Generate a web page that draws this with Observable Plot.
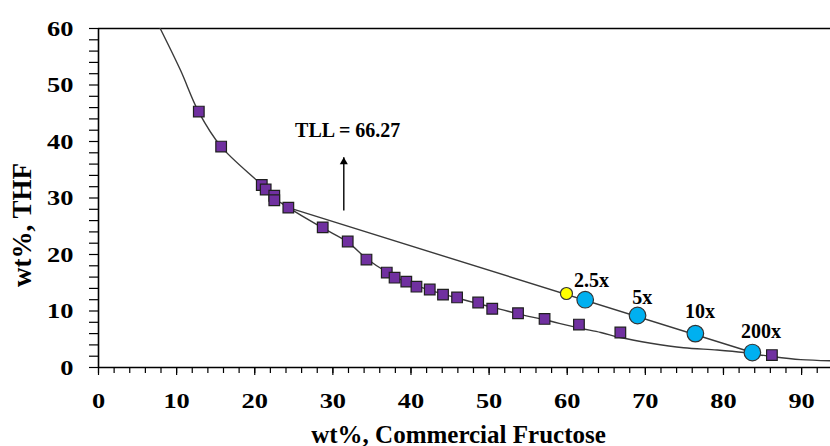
<!DOCTYPE html>
<html><head><meta charset="utf-8">
<script src="https://cdn.jsdelivr.net/npm/d3@7"></script>
<script src="https://cdn.jsdelivr.net/npm/@observablehq/plot@0.6"></script>
<style>body{margin:0;background:#fff} svg{display:block}</style>
</head><body><div id="chart"></div>
<script>
// Binodal curve
const binodalX = [7.9, 10.5, 12.8, 15.7, 20.9, 22.5, 24.3, 28.7, 31.9, 34.3, 36.9, 39.4, 42.4, 45.9, 48.6, 51.5, 53.7, 57.2, 61.5, 64.3, 66.8, 70.7, 74.9, 79.2, 82.6, 86.4, 89.9, 93.7];
const binodalY = [60, 52.6, 45.3, 39.1, 32.3, 30.0, 28.3, 24.7, 22.2, 19.3, 16.9, 15.1, 13.7, 12.3, 11.3, 10.3, 9.5, 8.4, 7.0, 6.2, 5.3, 4.3, 3.5, 3.1, 2.65, 1.9, 1.4, 1.2];
// Experimental binodal points (squares)
const squareX = [12.84, 15.7, 20.9, 21.4, 22.5, 22.5, 24.3, 28.7, 31.9, 34.3, 36.9, 37.9, 39.4, 40.7, 42.4, 44.1, 45.9, 48.6, 50.4, 53.7, 57.1, 61.5, 66.8, 86.2];
const squareY = [45.3, 39.1, 32.3, 31.5, 30.4, 29.6, 28.3, 24.8, 22.3, 19.1, 16.8, 15.9, 15.2, 14.3, 13.8, 12.9, 12.4, 11.5, 10.4, 9.6, 8.6, 7.6, 6.2, 2.2];
// Tie line end points
const tieX = [24.3, 83.7];
const tieY = [28.3, 2.65];
// Feed point (yellow)
const feedX = [59.9];
const feedY = [13.1];
// Dilution points (blue)
const diluteX = [62.3, 69.0, 76.4, 83.7];
const diluteY = [12.0, 9.2, 6.0, 2.65];
const diluteLabels = ["2.5x", "5x", "10x", "200x"];
const diluteLabelX = [63.1, 69.6, 77.0, 84.8];
const diluteLabelY = [15.4, 12.4, 9.9, 6.4];
// TLL annotation
const tllText = ["TLL = 66.27"];
const tllX = [31.9];
const tllY = [41.95];
const arrowX = [31.4];
const arrowY1 = [27.8];
const arrowY2 = [37.2];
// Ticks
const xTicksMajor = d3.range(0, 91, 10);
const xTicksMinor = d3.range(0, 93, 2);
const yTicksMajor = d3.range(0, 61, 10);
const yTicksMinor = d3.range(0, 61, 2);
const xTitle = "wt%, Commercial Fructose";
const yTitle = "wt%, THF";

const font = "'Liberation Serif', 'Times New Roman', serif";
const binodal = binodalX.map((x, i) => ({x, y: binodalY[i]}));
const squares = squareX.map((x, i) => ({x, y: squareY[i]}));
const tie = tieX.map((x, i) => ({x, y: tieY[i]}));
const feed = feedX.map((x, i) => ({x, y: feedY[i]}));
const dilute = diluteX.map((x, i) => ({x, y: diluteY[i]}));
const dLabels = diluteLabels.map((t, i) => ({t, x: diluteLabelX[i], y: diluteLabelY[i]}));
const tll = tllText.map((t, i) => ({t, x: tllX[i], y: tllY[i]}));
const arrow = arrowX.map((x, i) => ({x, y1: arrowY1[i], y2: arrowY2[i]}));
const empty = () => "";

const chart = Plot.plot({
  width: 830, height: 446,
  marginLeft: 98, marginRight: 0, marginTop: 28, marginBottom: 79,
  x: {domain: [0, 93.7]},
  y: {domain: [0, 60]},
  style: {background: "#fff", color: "#000", fontFamily: font},
  marks: [
    Plot.axisX({ticks: xTicksMinor, tickSize: 6, tickFormat: empty, label: null, strokeWidth: 1.2}),
    Plot.axisX({ticks: xTicksMajor, tickSize: 8, tickFormat: empty, label: null, strokeWidth: 1.2}),
    Plot.axisX({ticks: xTicksMajor, tickSize: 0, tickPadding: 24.5, label: null, fontSize: 22, fontWeight: "bold", fontFamily: font}),
    Plot.axisY({ticks: yTicksMinor, tickSize: 9, tickFormat: empty, label: null, strokeWidth: 1.2}),
    Plot.axisY({ticks: yTicksMajor, tickSize: 0, tickPadding: 25, label: null, fontSize: 22, fontWeight: "bold", fontFamily: font}),
    Plot.ruleY([0], {stroke: "#000", strokeWidth: 1.6}),
    Plot.ruleY([60], {stroke: "#000", strokeWidth: 1.6}),
    Plot.ruleX([0], {stroke: "#000", strokeWidth: 1.6}),
    Plot.line(binodal, {x: "x", y: "y", curve: "catmull-rom", stroke: "#3a3a3a", strokeWidth: 1.4, clip: true}),
    Plot.line(tie, {x: "x", y: "y", stroke: "#3a3a3a", strokeWidth: 1.4}),
    Plot.dot(squares, {x: "x", y: "y", symbol: "square", r: 6, fill: "#7030A0", stroke: "#1f1f1f", strokeWidth: 1.2}),
    Plot.dot(feed, {x: "x", y: "y", r: 6, fill: "#FFFF00", stroke: "#333", strokeWidth: 1.2}),
    Plot.dot(dilute, {x: "x", y: "y", r: 8.3, fill: "#00B0F0", stroke: "#333", strokeWidth: 1.2}),
    Plot.text(dLabels, {x: "x", y: "y", text: "t", fontSize: 20, fontWeight: "bold", fontFamily: font, fill: "#000", lineAnchor: "middle"}),
    Plot.text(tll, {x: "x", y: "y", text: "t", fontSize: 20, fontWeight: "bold", fontFamily: font, fill: "#000", lineAnchor: "middle"}),
    Plot.link(arrow, {x1: "x", x2: "x", y1: "y1", y2: "y2", stroke: "#000", strokeWidth: 1.4}),
    Plot.dot(arrow, {x: "x", y: "y2", symbol: "triangle", r: 3, fill: "#000", dy: 4.6}),
    Plot.text([xTitle], {text: d => d, frameAnchor: "bottom", dy: 67, dx: -6, textAnchor: "middle", lineAnchor: "middle", fontSize: 25, fontWeight: "bold", fontFamily: font, fill: "#000", ariaLabel: "x-title"}),
    Plot.text([yTitle], {text: d => d, frameAnchor: "left", rotate: -90, dx: -76, dy: 27, textAnchor: "middle", lineAnchor: "middle", fontSize: 27, fontWeight: "bold", fontFamily: font, fill: "#000", ariaLabel: "y-title"})
  ]
});

// Widen glyphs to match the reference's horizontally stretched lettering
function widen(selector, sx) {
  chart.querySelectorAll(selector).forEach(t => {
    t.setAttribute("transform", (t.getAttribute("transform") || "") + ` scale(${sx},1)`);
  });
}
widen('g[aria-label="x-axis tick label"] text', 1.2);
widen('g[aria-label="y-axis tick label"] text', 1.2);
widen('g[aria-label="x-title"] text', 1.1);

document.getElementById("chart").append(chart);
</script>
</body></html>
